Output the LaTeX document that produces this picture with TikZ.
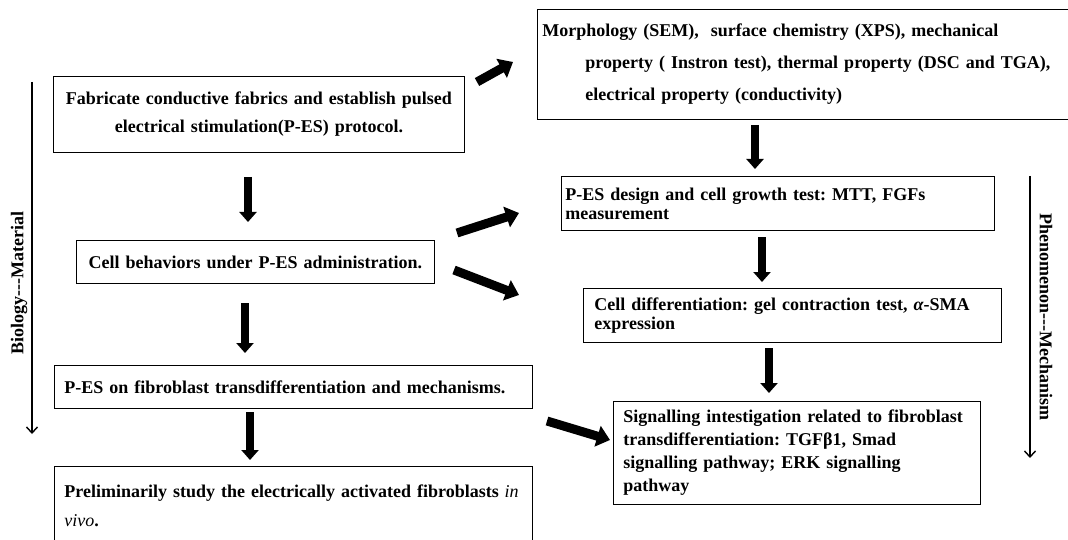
\documentclass[tikz,border=0pt]{standalone}
\usepackage{fontspec}
\setmainfont{Liberation Serif}
\frenchspacing
\usetikzlibrary{arrows, arrows.meta, positioning}

\begin{document}
\begin{tikzpicture}[
    x=1pt, y=-1pt,
    every node/.style={font=\fontsize{18pt}{21pt}\selectfont\bfseries},
    stage/.style={rectangle, draw, line width=0.9pt, anchor=north west, inner xsep=10pt, inner ysep=0pt, align=left},
    flow/.style={draw, line width=7.5pt, -{Triangle[length=10pt, width=17pt]}},
    jump/.style={draw, line width=9pt, -{Triangle[length=13pt, width=21pt]}},
    axis/.style={draw, line width=1.4pt, -{Straight Barb[length=6pt, width=11pt]}}
]
    \useasboundingbox (0,0) rectangle (1068,540);

    % Left column
    \node[stage, align=center, text width=391pt, minimum height=76pt] (fabricate) at (53,76) {Fabricate conductive fabrics and establish pulsed\\[7pt]electrical stimulation(P-ES) protocol.};
    \node[stage, align=center, text width=338pt, minimum height=43pt] (behavior) at (76,240) {Cell behaviors under P-ES administration.};
    \node[stage, text width=458pt, minimum height=43pt] (transdiff) at (54,365) {P-ES on fibroblast transdifferentiation and mechanisms.};
    \node[stage, text width=458pt, minimum height=79pt] (invivo) at (54,466) {Preliminarily study the electrically activated fibroblasts {\normalfont\itshape in}\\[8pt]{\normalfont\itshape vivo}.};

    % Right column
    \node[stage, inner xsep=5pt, text width=523pt, minimum height=110pt] (character) at (537,9) {Morphology (SEM),\ \ surface chemistry (XPS), mechanical\\[11pt]\hspace*{43pt}property (\ Instron test), thermal property (DSC and TGA),\\[11pt]\hspace*{43pt}electrical property (conductivity)};
    \node[stage, inner xsep=4pt, text width=425pt, minimum height=54pt] (growth) at (561,176) {P-ES design and cell growth test: MTT, FGFs\\[-2pt]measurement};
    \node[stage, inner xsep=11pt, text width=396pt, minimum height=54pt] (differ) at (583,288) {Cell differentiation: gel contraction test, \textit{α}-SMA\\[-2pt]expression};
    \node[stage, text width=347pt, minimum height=103pt] (signal) at (613,401) {Signalling intestigation related to fibroblast\\[2pt]transdifferentiation: TGFβ1, Smad\\[2pt]signalling pathway; ERK signalling\\[2pt]pathway};

    % Axis labels
    \node[rotate=90] (biolabel) at (19,283) {Biology-{}-{}-Material};
    \node[rotate=-90] (phenolabel) at (1046,317) {Phenomenon-{}-{}-Mechanism};

    % Arrow ends
    \coordinate (biotop) at (32,82);
    \coordinate (biobot) at (32,434);
    \coordinate (phenotop) at (1030,176);
    \coordinate (phenobot) at (1030,458);
    \coordinate (fabdown) at (248,177);
    \coordinate (behavup) at (248,222);
    \coordinate (behavdown) at (245,303);
    \coordinate (transup) at (245,353);
    \coordinate (transdown) at (250,412);
    \coordinate (invivoup) at (250,460);
    \coordinate (chardown) at (755,125);
    \coordinate (growthup) at (755,169);
    \coordinate (growthdown) at (762,237);
    \coordinate (differup) at (762,282);
    \coordinate (differdown) at (769,348);
    \coordinate (signalup) at (769,393);
    \coordinate (fabright) at (477,82);
    \coordinate (charleft) at (513,62);
    \coordinate (behavright) at (457,233);
    \coordinate (growthleft) at (519,213);
    \coordinate (behavlow) at (454,270);
    \coordinate (differleft) at (519,295);
    \coordinate (transright) at (547,421);
    \coordinate (signalleft) at (610,440);

    % Connectors
    \draw[axis] (biotop) -- (biobot);
    \draw[axis] (phenotop) -- (phenobot);
    \draw[flow] (fabdown) -- (behavup);
    \draw[flow] (behavdown) -- (transup);
    \draw[flow] (transdown) -- (invivoup);
    \draw[flow] (chardown) -- (growthup);
    \draw[flow] (growthdown) -- (differup);
    \draw[flow] (differdown) -- (signalup);
    \draw[jump] (fabright) -- (charleft);
    \draw[jump] (behavright) -- (growthleft);
    \draw[jump] (behavlow) -- (differleft);
    \draw[jump] (transright) -- (signalleft);
\end{tikzpicture}
\end{document}
